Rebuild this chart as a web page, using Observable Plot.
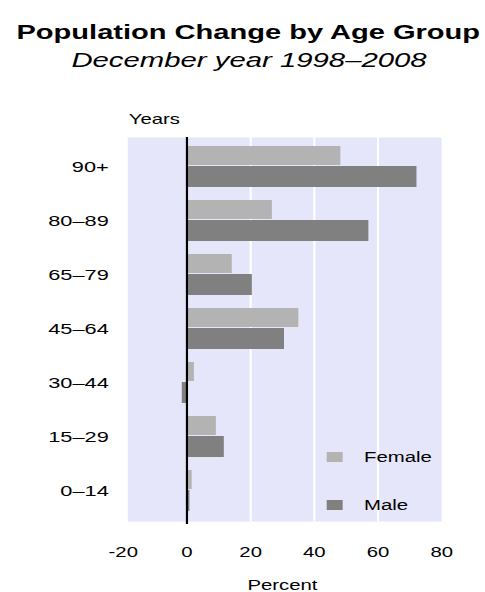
<!DOCTYPE html>
<html>
<head>
<meta charset="utf-8">
<script src="https://cdn.jsdelivr.net/npm/d3@7"></script>
<script src="https://cdn.jsdelivr.net/npm/@observablehq/plot@0.6"></script>
<style>
  html, body { margin: 0; padding: 0; background: #fff; }
  #wrap { position: relative; width: 334px; transform: scaleX(1.452); transform-origin: 0 0;
          font-family: 'Liberation Sans', Arial, sans-serif; color: #000; }
  .title { font-size: 20px; font-weight: bold; line-height: 20px; height: 20px; padding-top: 22px; padding-left: 8px; text-align: center; white-space: nowrap; }
  .subtitle { font-size: 20.2px; font-style: italic; line-height: 20px; height: 20px; margin-top: 8px; padding-bottom: 10px; padding-left: 9px; text-align: center; white-space: nowrap; }
  .sw { position: absolute; width: 11px; height: 10px; }
  .lt { position: absolute; font-size: 14px; line-height: 20px; height: 20px; white-space: nowrap; }
</style>
</head>
<body>
<div id="wrap">
  <div class="title">Population Change by Age Group</div>
  <div class="subtitle">December year 1998–2008</div>
  <div id="chart"></div>
</div>
<script>
const ages = ["90+", "80–89", "65–79", "45–64", "30–44", "15–29", "0–14"];
const female = [48.4, 26.9, 14.3, 35.2, 2.4, 9.3, 1.7];
const male = [72.3, 57.2, 20.6, 30.7, -1.4, 11.8, 1.0];
const xTicks = [-20, 0, 20, 40, 60, 80];
const gridTicks = [20, 40, 60];
const seriesNames = ["Female", "Male"];
const seriesColors = ["#b3b3b3", "#808080"];

const rows = ages.map((age, i) => ({age, female: female[i], male: male[i]}));

const chart = Plot.plot({
  width: 334,
  height: 512,
  marginTop: 57,
  marginBottom: 71,
  marginLeft: 84.4,
  marginRight: 30.3,
  style: {fontFamily: "'Liberation Sans', Arial, sans-serif", fontSize: "14px", color: "#000", background: "transparent", overflow: "visible"},
  x: {domain: [-20, 80]},
  y: {domain: ages, paddingInner: 0.236, paddingOuter: 0.11},
  marks: [
    Plot.frame({fill: "#e6e6fa", stroke: "none", insetLeft: 3.1}),
    Plot.gridX(gridTicks, {stroke: "white", strokeOpacity: 1, strokeWidth: 1.4}),
    Plot.barX(rows, {y: "age", x: "female", fill: seriesColors[0], insetBottom: 22}),
    Plot.barX(rows, {y: "age", x: "male", fill: seriesColors[1], insetTop: 20}),
    Plot.ruleX([0], {stroke: "black", strokeWidth: 1.5, insetBottom: -3}),
    Plot.axisX({ticks: xTicks, tickSize: 0, tickPadding: 26, tickFormat: d => String(d), label: null, fontSize: 14}),
    Plot.axisY({tickSize: 0, tickPadding: 10, label: null, fontSize: 15}),
    Plot.text(["Years"], {frameAnchor: "top-left", dx: 3.8, dy: -14, lineAnchor: "bottom", textAnchor: "start", fontSize: 14}),
    Plot.text(["Percent"], {frameAnchor: "bottom", dy: 68, lineAnchor: "bottom", fontSize: 14})
  ]
});
chart.style.maxWidth = "none";
document.getElementById("chart").appendChild(chart);

// legend (overlaid at lower right of the plot area)
const wrap = document.getElementById("wrap");
const legendTops = [447, 495];
seriesNames.forEach((name, i) => {
  const sw = document.createElement("div");
  sw.className = "sw";
  sw.style.left = "225.2px";
  sw.style.top = (legendTops[i] + 5) + "px";
  sw.style.background = seriesColors[i];
  wrap.appendChild(sw);
  const t = document.createElement("div");
  t.className = "lt";
  t.style.left = "250.7px";
  t.style.top = legendTops[i] + "px";
  t.textContent = name;
  wrap.appendChild(t);
});
</script>
</body>
</html>
